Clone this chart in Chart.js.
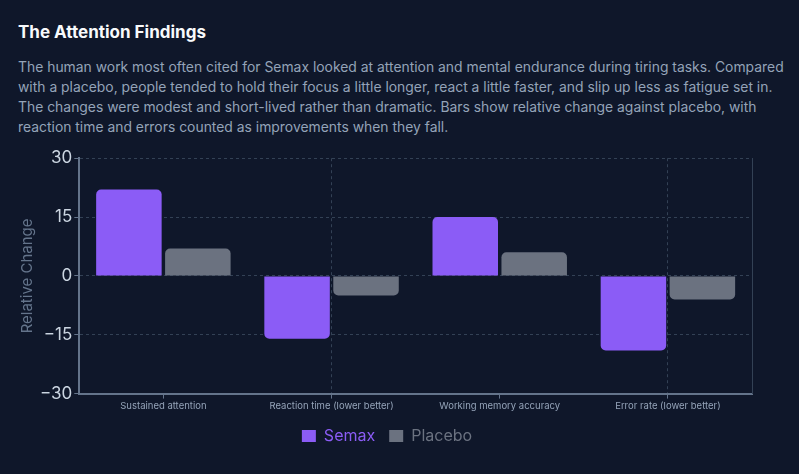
<!DOCTYPE html>
<html lang="en">
<head>
    <meta charset="UTF-8">
    <title>The Attention Findings</title>
    <script src="https://cdn.jsdelivr.net/npm/chart.js"></script>
    <style>
        html, body { margin: 0; padding: 0; background: #0f172a; }
        body { width: 799px; height: 474px; overflow: hidden; font-family: Inter, "Noto Sans", sans-serif; }
        h1 { position: absolute; left: 18px; top: 22px; margin: 0; font-size: 17px; font-weight: 700; color: #f8fafc; }
        p { position: absolute; left: 18px; top: 57px; margin: 0; font-size: 13.9px; line-height: 20px; color: #94a3b8; white-space: nowrap; }
        #wrap { position: absolute; left: 14px; top: 146px; width: 746px; height: 308px; }
    </style>
</head>
<body>
    <h1>The Attention Findings</h1>
    <p>The human work most often cited for Semax looked at attention and mental endurance during tiring tasks. Compared<br>with a placebo, people tended to hold their focus a little longer, react a little faster, and slip up less as fatigue set in.<br>The changes were modest and short-lived rather than dramatic. Bars show relative change against placebo, with<br>reaction time and errors counted as improvements when they fall.</p>
    <div id="wrap"><canvas id="myChart"></canvas></div>
    <script>
        // Données
        const categories = ['Sustained attention', 'Reaction time (lower better)', 'Working memory accuracy', 'Error rate (lower better)'];
        const semaxValues = [22, -16, 15, -19];
        const placeboValues = [7, -5, 6, -6];
        const yTicks = [-30, -15, 0, 15, 30];

        const semaxColor = '#8b5cf6';
        const placeboColor = '#6b7280';
        const gridColor = '#334155';
        const axisColor = '#64748b';

        Chart.defaults.font.family = 'Inter, "Noto Sans", sans-serif';

        const ctx = document.getElementById('myChart').getContext('2d');
        new Chart(ctx, {
            type: 'bar',
            data: {
                labels: categories,
                datasets: [
                    { label: 'Semax', data: semaxValues, backgroundColor: semaxColor, borderRadius: 5, barPercentage: 0.95, categoryPercentage: 0.82 },
                    { label: 'Placebo', data: placeboValues, backgroundColor: placeboColor, borderRadius: 5, barPercentage: 0.95, categoryPercentage: 0.82 }
                ]
            },
            options: {
                responsive: true,
                maintainAspectRatio: false,
                animation: false,
                layout: { padding: { top: 2, right: 0 } },
                scales: {
                    x: {
                        grid: {
                            offset: false,
                            color: c => (c.index % 2 === 1 ? gridColor : 'transparent'),
                            tickColor: axisColor,
                            tickBorderDash: [],
                            tickLength: 5
                        },
                        border: { color: axisColor, width: 2, dash: [3, 3] },
                        ticks: { color: '#94a3b8', font: { size: 9.5 }, padding: 2, maxRotation: 0 }
                    },
                    y: {
                        min: -30,
                        max: 30,
                        afterBuildTicks: axis => { axis.ticks = yTicks.map(v => ({ value: v })); },
                        grid: {
                            color: gridColor,
                            tickColor: axisColor,
                            tickBorderDash: [],
                            tickLength: 5
                        },
                        border: { color: axisColor, width: 2, dash: [3, 3] },
                        ticks: {
                            color: '#cbd5e1',
                            font: { size: 17 },
                            padding: 2,
                            callback: v => (v < 0 ? '\u2212' + Math.abs(v) : String(v))
                        },
                        title: { display: true, text: 'Relative Change', color: '#64748b', font: { size: 15 }, padding: { top: 4, bottom: 2 } }
                    },
                    y2: {
                        position: 'right',
                        min: -30,
                        max: 30,
                        grid: { display: false },
                        ticks: { display: false },
                        border: { color: gridColor, dash: [3, 3], width: 1 }
                    }
                },
                plugins: {
                    tooltip: { enabled: false },
                    legend: {
                        position: 'bottom',
                        labels: {
                            boxWidth: 14,
                            boxHeight: 12,
                            padding: 14,
                            font: { size: 16 },
                            generateLabels: chart => chart.data.datasets.map((ds, i) => ({
                                text: ds.label,
                                fillStyle: ds.backgroundColor,
                                strokeStyle: ds.backgroundColor,
                                lineWidth: 0,
                                fontColor: ds.backgroundColor,
                                datasetIndex: i,
                                hidden: false
                            }))
                        }
                    }
                }
            }
        });
    </script>
</body>
</html>
